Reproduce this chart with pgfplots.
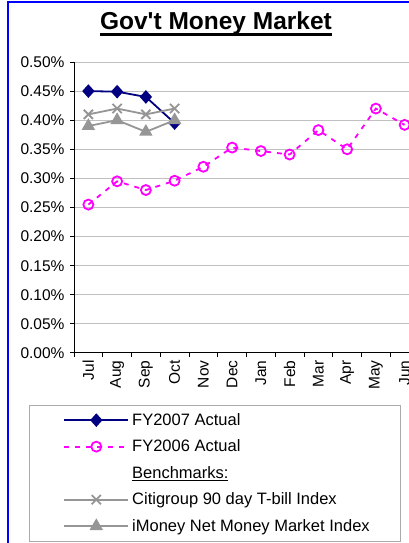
\documentclass[border=0pt]{standalone}
\usepackage{fontspec}
\setmainfont{Liberation Sans}[Ligatures=TeXOff]
\usepackage{pgfplots}
\pgfplotsset{compat=1.18}
\definecolor{navyc}{RGB}{0,0,128}
\definecolor{magc}{RGB}{255,0,255}
\definecolor{grayc}{RGB}{150,150,150}
\definecolor{gridc}{RGB}{192,192,192}
\definecolor{legc}{RGB}{170,170,170}
\newcommand\thickul[3]{\setbox0\hbox{#3}\rlap{\rule[-#1]{\wd0}{#2}}\box0}
\begin{document}
\begin{tikzpicture}
\path[use as bounding box, clip] (0,0) rectangle (409pt,543pt);
\fill[white] (0,0) rectangle (409pt,543pt);
\begin{axis}[
  at={(74pt,190pt)}, anchor=south west,
  scale only axis, width=345pt, height=291pt,
  xmin=-0.5, xmax=11.5, ymin=0, ymax=0.5,
  clip=false,
  axis x line=bottom, axis y line=left,
  axis line style={-, black, line width=1pt},
  xtick={0,1,2,3,4,5,6,7,8,9,10,11},
  xticklabels={Jul,Aug,Sep,Oct,Nov,Dec,Jan,Feb,Mar,Apr,May,Jun},
  major x tick style={draw=none},
  minor xtick={-0.5,0.5,1.5,2.5,3.5,4.5,5.5,6.5,7.5,8.5,9.5,10.5,11.5},
  minor x tick style={black, line width=1pt},
  major y tick style={black, line width=1pt},
  tick align=outside,
  major tick length=4pt, minor tick length=4pt,
  ytick={0,0.05,0.1,0.15,0.2,0.25,0.3,0.35,0.4,0.45,0.5},
  scaled y ticks=false,
  yticklabel={\pgfmathprintnumber[fixed,fixed zerofill,precision=2]{\tick}\%},
  yticklabel style={font=\fontsize{15.5}{18}\selectfont, xshift=-2pt},
  xticklabel style={font=\fontsize{15.5}{18}\selectfont, rotate=90, anchor=east, xshift=0pt},
  /pgf/number format/assume math mode=true,
  ymajorgrids, major grid style={gridc, line width=1pt},
  title={\fontsize{24.5}{28}\selectfont\bfseries\thickul{6.5pt}{2.5pt}{Gov't Money Market}},
  title style={at={(axis description cs:0.4116,1.0911)}, anchor=base},
  legend cell align=left,
  legend style={at={(axis description cs:-0.1304,-0.1787)}, anchor=north west,
    draw=legc, line width=0.8pt, fill=white, font=\fontsize{16.5}{19}\selectfont,
    inner xsep=28pt, inner ysep=1.5pt, row sep=0pt, column sep=0pt,
    nodes={minimum height=26.5pt, inner xsep=3pt, inner ysep=0pt}},
  legend image code/.code={\path (-6pt,0pt); \draw[mark repeat=2,mark phase=2,#1] plot coordinates {(0pt,0pt) (32pt,0pt) (64pt,0pt)};},
]
\addplot[navyc, line width=1.8pt, mark=diamond*, mark size=5.5pt, mark options={solid, fill=navyc, xscale=1.2}]
  coordinates {(0,0.450) (1,0.449) (2,0.440) (3,0.395)};
\addlegendentry{FY2007 Actual}
\addplot[magc, line width=1.8pt, dash pattern=on 5pt off 6pt, mark=o, mark size=5pt, mark options={solid, fill=white}]
  coordinates {(0,0.255) (1,0.295) (2,0.280) (3,0.296) (4,0.320) (5,0.353) (6,0.347) (7,0.341) (8,0.383) (9,0.350) (10,0.420) (11,0.392)};
\addlegendentry{FY2006 Actual}
\addlegendimage{empty legend}
\addlegendentry{\thickul{3pt}{1.2pt}{Benchmarks:}}
\addplot[grayc, line width=1.8pt, mark=x, mark size=6.5pt, mark options={solid}]
  coordinates {(0,0.410) (1,0.420) (2,0.410) (3,0.420)};
\addlegendentry{Citigroup 90 day T-bill Index}
\addplot[grayc, line width=1.8pt, mark=triangle*, mark size=6pt, mark options={solid, fill=grayc}]
  coordinates {(0,0.390) (1,0.400) (2,0.380) (3,0.400)};
\addlegendentry{iMoney Net Money Market Index}
\end{axis}
\draw[blue, line width=2pt] (8pt,-5pt) -- (8pt,541pt) -- (420pt,541pt);
\end{tikzpicture}
\end{document}
